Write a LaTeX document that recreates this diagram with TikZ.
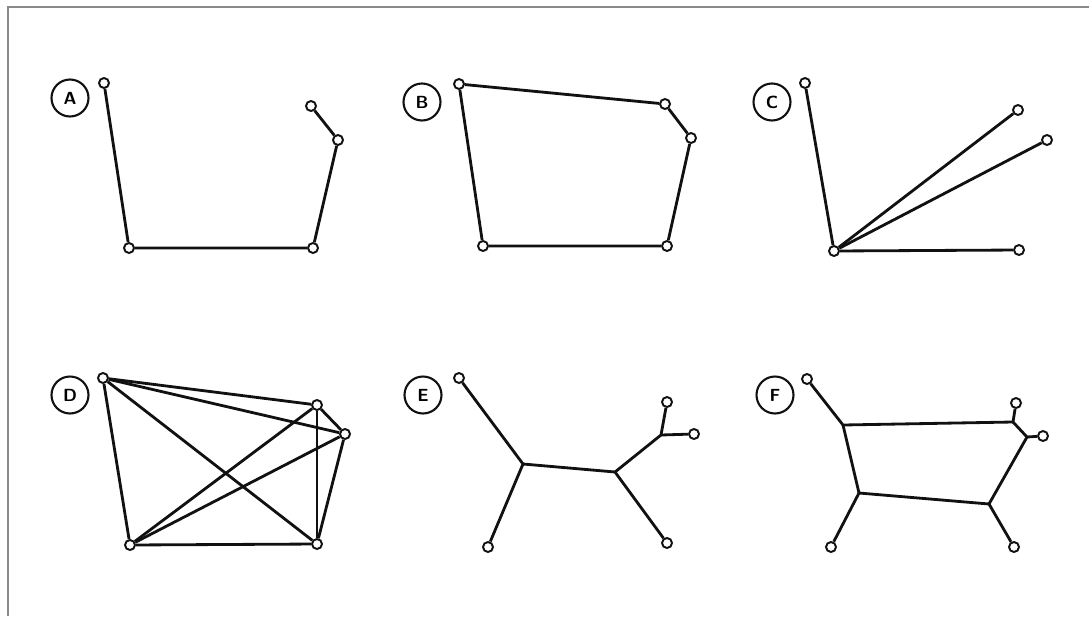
\documentclass[tikz,border=0pt]{standalone}
\usepackage{tikz}
\usetikzlibrary{calc}
\definecolor{ink}{HTML}{111111}
\definecolor{frame}{HTML}{8A8A8A}
\tikzset{
  vtx/.style={circle,draw=ink,fill=white,line width=1.1pt,inner sep=0pt,minimum size=0.2cm},
  tag/.style={circle,draw=ink,line width=1.2pt,inner sep=0pt,minimum size=0.74cm,font=\sffamily\bfseries\normalsize},
  edge/.style={ink,line width=1.6pt},
}
\begin{document}
\begin{tikzpicture}[x=0.02cm,y=-0.02cm]
\useasboundingbox (0,0) rectangle (1089,616);
\draw[frame,line width=1.4pt] (8,616) -- (8,7) -- (1089,7);
% A
\node[tag] (tA) at (70,98) {A};
\node[vtx] (a1) at (104,83) {};
\node[vtx] (a2) at (129,248) {};
\node[vtx] (a3) at (313,248) {};
\node[vtx] (a4) at (338,140) {};
\node[vtx] (a5) at (311,106) {};
\draw[edge] (a1) -- (a2) -- (a3) -- (a4) -- (a5);
% B
\node[tag] (tB) at (422,102) {B};
\node[vtx] (b1) at (459,84) {};
\node[vtx] (b2) at (665,104) {};
\node[vtx] (b3) at (691,138) {};
\node[vtx] (b4) at (667,246) {};
\node[vtx] (b5) at (483,246) {};
\draw[edge] (b1) -- (b2) -- (b3) -- (b4) -- (b5) -- (b1);
% C
\node[tag] (tC) at (772,102) {C};
\node[vtx] (c0) at (834,251) {};
\node[vtx] (c1) at (805,83) {};
\node[vtx] (c2) at (1018,110) {};
\node[vtx] (c3) at (1047,140) {};
\node[vtx] (c4) at (1019,250) {};
\foreach \v in {c1,c2,c3,c4}
  \draw[edge] (c0) -- (\v);
% D
\node[tag] (tD) at (70,395) {D};
\node[vtx] (d1) at (103,378) {};
\node[vtx] (d2) at (317,405) {};
\node[vtx] (d3) at (345,434) {};
\node[vtx] (d4) at (317,544) {};
\node[vtx] (d5) at (130,545) {};
\foreach \s/\t in {d1/d2,d1/d3,d1/d4,d1/d5,d2/d3,d2/d4,d2/d5,d3/d4,d3/d5,d4/d5}
  \draw[edge] (\s) -- (\t);
% E
\node[tag] (tE) at (423,395) {E};
\node[vtx] (e1) at (459,378) {};
\node[vtx] (e2) at (488,547) {};
\node[vtx] (e3) at (667,543) {};
\node[vtx] (e4) at (667,402) {};
\node[vtx] (e5) at (694,434) {};
\coordinate (ej1) at (523,464);
\coordinate (ej2) at (615,472);
\coordinate (ej3) at (661,435);
\draw[edge] (e1) -- (ej1) -- (e2);
\draw[edge] (ej1) -- (ej2) -- (e3);
\draw[edge] (ej2) -- (ej3) -- (e4);
\draw[edge] (ej3) -- (e5);
% F
\node[tag] (tF) at (775,395) {F};
\node[vtx] (f1) at (807,379) {};
\node[vtx] (f2) at (831,547) {};
\node[vtx] (f3) at (1014,547) {};
\node[vtx] (f4) at (1016,403) {};
\node[vtx] (f5) at (1043,436) {};
\coordinate (fj1) at (843,425);
\coordinate (fj2) at (859,493);
\coordinate (fj3) at (989,504);
\coordinate (fj4) at (1013,422);
\coordinate (fj5) at (1027,437);
\draw[edge] (f1) -- (fj1) -- (fj4) -- (f4);
\draw[edge] (fj4) -- (fj5) -- (f5);
\draw[edge] (fj5) -- (fj3) -- (f3);
\draw[edge] (fj3) -- (fj2) -- (f2);
\draw[edge] (fj2) -- (fj1);
\end{tikzpicture}
\end{document}
